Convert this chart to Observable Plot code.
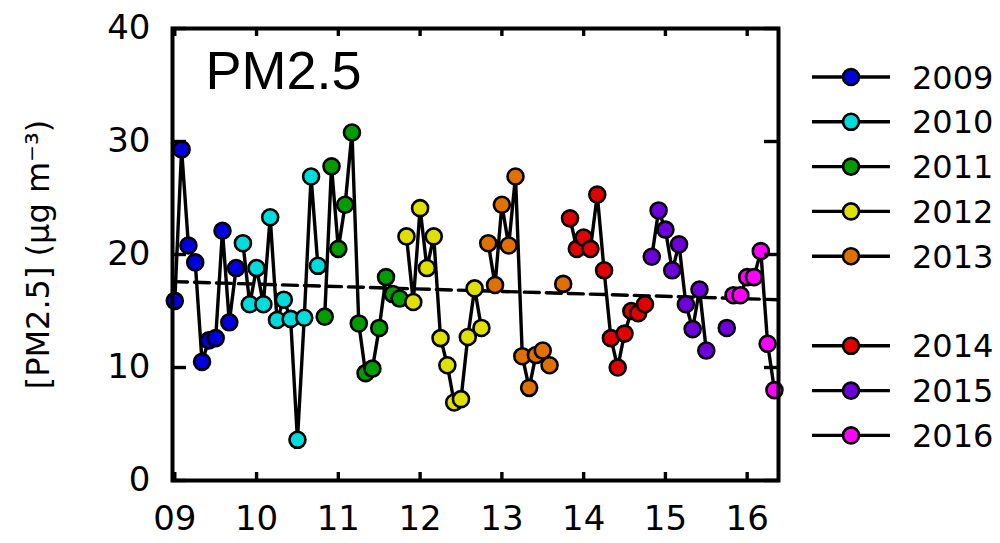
<!DOCTYPE html>
<html><head><meta charset="utf-8">
<script src="https://cdn.jsdelivr.net/npm/d3@7"></script>
<script src="https://cdn.jsdelivr.net/npm/@observablehq/plot@0.6"></script>
<style>body{margin:0;background:#fff;overflow:hidden;}</style>
</head><body><div id="chart"></div>
<script>
// ---- data ----
const years = ["2009","2010","2011","2012","2013","2014","2015","2016"];
const colors = ["#0000dc","#00dcdc","#009c00","#e0e000","#e07000","#e00000","#6e00dc","#ff00ff"];
// months after Jan 2009 at which each coloured series starts
const startMonth = [0, 10, 22, 34, 46, 58, 70, 82];
const pm2009 = [15.9, 29.3, 20.8, 19.3, 10.5, 12.4, 12.6, 22.1, 14.0, 18.8];
const pm2010 = [21.0, 15.6, 18.8, 15.6, 23.3, 14.2, 16.0, 14.3, 3.6, 14.4, 26.9, 19.0];
const pm2011 = [14.5, 27.8, 20.5, 24.4, 30.8, 13.9, 9.5, 9.9, 13.5, 18.0, 16.5, 16.1];
const pm2012 = [21.6, 15.8, 24.1, 18.8, 21.6, 12.6, 10.2, 6.9, 7.2, 12.7, 17.0, 13.5];
const pm2013 = [21.0, 17.3, 24.4, 20.8, 26.9, 11.0, 8.2, 11.1, 11.5, 10.2, null, 17.4];
const pm2014 = [23.2, 20.5, 21.5, 20.5, 25.3, 18.6, 12.6, 10.0, 13.0, 15.0, 14.8, 15.6];
const pm2015 = [19.8, 23.9, 22.2, 18.6, 20.9, 15.6, 13.4, 16.9, 11.5, null, null, 13.5];
const pm2016 = [16.4, 16.4, 18.0, 18.0, 20.3, 12.1, 8.0];
const seriesValues = [pm2009, pm2010, pm2011, pm2012, pm2013, pm2014, pm2015, pm2016];
// dashed trend line end points
const trendX = [2008.972, 2016.383];
const trendY = [17.6, 16.0];
// axes
const xTicks = [2009, 2010, 2011, 2012, 2013, 2014, 2015, 2016];
const xTickLabels = ["09", "10", "11", "12", "13", "14", "15", "16"];
const yTicks = [0, 10, 20, 30, 40];
const legendSlots = [0, 1, 2, 3, 4, 6, 7, 8];

// ---- build table ----
const rows = [];
seriesValues.forEach((vals, s) => {
  vals.forEach((v, j) => {
    rows.push({year: years[s], x: 2009 + (startMonth[s] + j) / 12, v: v});
  });
});
const trend = trendX.map((x, i) => ({x, y: trendY[i]}));

const W = 1000, H = 543;
const mL = 172, mR = 222, mT = 28, mB = 63;
const fw = W - mL - mR, fh = H - mT - mB;
const LW = 3.4;
const chart = Plot.plot({
  width: W, height: H,
  marginLeft: mL, marginRight: mR, marginTop: mT, marginBottom: mB,
  style: {fontFamily: "DejaVu Sans", fontSize: "34px", color: "black", background: "white"},
  x: {domain: [2008.972, 2016.383], label: null},
  y: {domain: [0, 40], label: null},
  color: {domain: years, range: colors},
  marks: [
    Plot.line(rows, {x: "x", y: "v", z: "year", stroke: "black", strokeWidth: LW}),
    Plot.line(trend, {x: "x", y: "y", stroke: "black", strokeWidth: LW, strokeDasharray: "15,7"}),
    Plot.dot(rows.filter(d => d.v != null), {x: "x", y: "v", fill: "year", r: 8, stroke: "black", strokeWidth: 2.6}),
    // inward ticks
    Plot.tickX(xTicks, {x: d => d, insetTop: fh - 8, stroke: "black", strokeWidth: LW}),
    Plot.tickX(xTicks, {x: d => d, insetBottom: fh - 8, stroke: "black", strokeWidth: LW}),
    Plot.tickY(yTicks, {y: d => d, insetRight: fw - 14, stroke: "black", strokeWidth: LW}),
    Plot.tickY(yTicks, {y: d => d, insetLeft: fw - 14, stroke: "black", strokeWidth: LW}),
    Plot.axisX({ticks: xTicks, anchor: "bottom", tickSize: 0, tickPadding: 25, label: null,
      tickFormat: d => xTickLabels[xTicks.indexOf(d)]}),
    Plot.axisY({ticks: yTicks, anchor: "left", tickSize: 0, tickPadding: 22, label: null}),
    Plot.frame({stroke: "black", strokeWidth: 4}),
    Plot.text(["PM2.5"], {frameAnchor: "top-left", dx: 33, dy: 22, lineAnchor: "top", textAnchor: "start",
      fontFamily: "Liberation Sans", fontSize: 54, fill: "black"}),
    Plot.text(["[PM2.5] (µg m⁻³)"], {frameAnchor: "left", dx: -134, rotate: -90, textAnchor: "middle",
      fontSize: 32, fill: "black"})
  ]
});
document.getElementById("chart").appendChild(chart);

// ---- legend (right side) ----
const svg = d3.select(chart);
const lg = svg.append("g").attr("font-family", "DejaVu Sans").attr("font-size", 32)
  .attr("text-anchor", "start");
years.forEach((yr, i) => {
  const cy = 77 + legendSlots[i] * 44.8;
  const g = lg.append("g").attr("transform", `translate(0,${cy})`);
  g.append("line").attr("x1", 812).attr("x2", 890).attr("y1", 0).attr("y2", 0)
    .attr("stroke", "black").attr("stroke-width", LW);
  g.append("circle").attr("cx", 851).attr("cy", 0).attr("r", 8)
    .attr("fill", colors[i]).attr("stroke", "black").attr("stroke-width", 2.6);
  g.append("text").attr("x", 912).attr("y", 0).attr("dy", "0.36em")
    .attr("text-anchor", "start").attr("fill", "black").text(yr);
});
</script>
</body></html>
